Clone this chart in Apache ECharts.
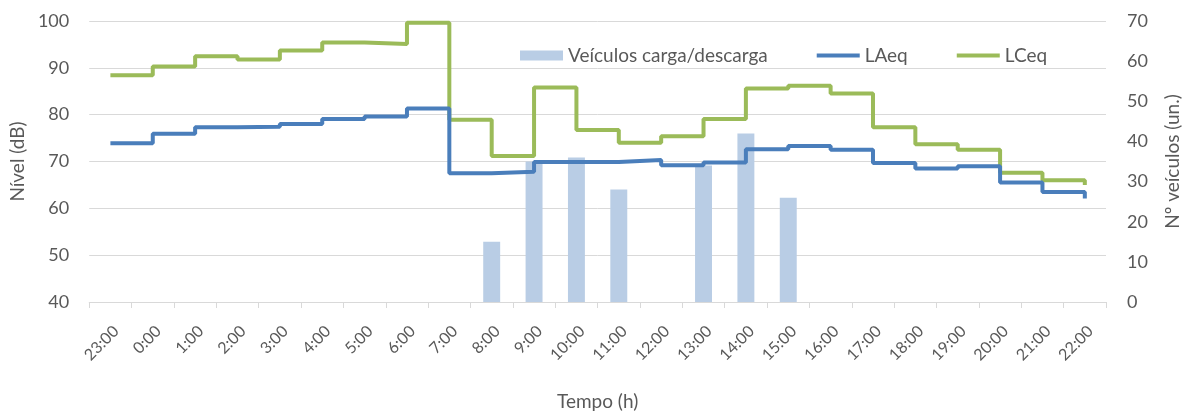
<!DOCTYPE html>
<html>
<head>
<meta charset="utf-8">
<script src="https://cdn.jsdelivr.net/npm/echarts@6/dist/echarts.min.js"></script>
<style>
  html, body { margin: 0; padding: 0; background: #fff; }
  #chart { width: 1190px; height: 417px; }
</style>
</head>
<body>
<div id="chart"></div>
<script>
// Hourly categories, 23:00 through 22:00
const hours = ['23:00','0:00','1:00','2:00','3:00','4:00','5:00','6:00','7:00','8:00','9:00','10:00',
  '11:00','12:00','13:00','14:00','15:00','16:00','17:00','18:00','19:00','20:00','21:00','22:00'];

// Loading/unloading vehicles per hour (right axis)
const vehicles = [null,null,null,null,null,null,null,null,null,15,35,36,28,null,34,42,26,null,null,null,null,null,null,null];

// Equivalent sound levels, dB (left axis)
const laeq = [73.9,75.9,77.3,77.4,78.0,79.1,79.6,81.3,67.5,67.8,69.9,69.9,70.3,69.2,69.8,72.6,73.3,72.5,69.7,68.5,69.0,65.5,63.5,62.1];
const lceq = [88.4,90.3,92.5,91.8,93.7,95.4,95.1,99.6,78.9,71.2,85.8,76.7,74.0,75.4,79.1,85.6,86.2,84.5,77.3,73.7,72.5,67.6,66.0,65.0];

const levelTicks = { min: 40, max: 100, interval: 10 };
const countTicks = { min: 0, max: 70, interval: 10 };

const FONT = 'Lato';
const TXT = '#595959';
const GRID = '#d9d9d9';
const BLUE = '#4a7ebb';
const GREEN = '#9bbb59';
const BAR = '#b9cde5';

// thin horizontal stroke used as legend key for the line series
const lineKey = 'path://M0,0H43V4H0Z';

const chart = echarts.init(document.getElementById('chart'), null, { renderer: 'canvas' });
chart.setOption({
  animation: false,
  textStyle: { fontFamily: FONT, color: TXT },
  grid: { left: 89, right: 80, top: 21, bottom: 115, containLabel: false },
  legend: {
    left: 515, top: 41,
    itemWidth: 43, itemHeight: 10, itemGap: 49, itemTextGap: 5,
    textStyle: { fontFamily: FONT, fontSize: 19, color: TXT },
    data: [
      { name: 'Veículos carga/descarga', icon: 'rect' },
      { name: 'LAeq', icon: lineKey },
      { name: 'LCeq', icon: lineKey }
    ]
  },
  xAxis: {
    type: 'category',
    data: hours,
    boundaryGap: true,
    name: 'Tempo (h)',
    nameLocation: 'middle',
    nameGap: 90,
    nameTextStyle: { fontFamily: FONT, fontSize: 19, color: TXT },
    axisLine: { lineStyle: { color: GRID, width: 1 } },
    axisTick: { show: true, alignWithLabel: false, length: 6, lineStyle: { color: GRID } },
    axisLabel: { rotate: 45, align: 'right', verticalAlign: 'top', fontSize: 16, color: TXT, margin: 21, interval: 0 },
    splitLine: { show: false }
  },
  yAxis: [
    {
      type: 'value',
      min: levelTicks.min, max: levelTicks.max, interval: levelTicks.interval,
      name: 'Nível (dB)',
      nameLocation: 'middle',
      nameGap: 58,
      nameRotate: 90,
      nameTextStyle: { fontFamily: FONT, fontSize: 19, color: TXT },
      axisLine: { show: false },
      axisTick: { show: false },
      axisLabel: { fontSize: 18, color: TXT, margin: 20 },
      splitLine: { lineStyle: { color: GRID, width: 1 } }
    },
    {
      type: 'value',
      position: 'right',
      min: countTicks.min, max: countTicks.max, interval: countTicks.interval,
      name: 'Nº veículos (un.)',
      nameLocation: 'middle',
      nameGap: 57,
      nameRotate: 90,
      nameTextStyle: { fontFamily: FONT, fontSize: 19, color: TXT },
      axisLine: { show: false },
      axisTick: { show: false },
      axisLabel: { fontSize: 18, color: TXT, margin: 21 },
      splitLine: { show: false }
    }
  ],
  series: [
    {
      name: 'Veículos carga/descarga',
      type: 'bar',
      yAxisIndex: 1,
      data: vehicles,
      barWidth: '40%',
      itemStyle: { color: BAR },
      z: 1
    },
    {
      name: 'LAeq',
      type: 'line',
      yAxisIndex: 0,
      data: laeq,
      step: 'end',
      symbol: 'none',
      lineStyle: { color: BLUE, width: 4 },
      itemStyle: { color: BLUE },
      z: 3
    },
    {
      name: 'LCeq',
      type: 'line',
      yAxisIndex: 0,
      data: lceq,
      step: 'end',
      symbol: 'none',
      lineStyle: { color: GREEN, width: 4 },
      itemStyle: { color: GREEN },
      z: 2
    }
  ]
});
</script>
</body>
</html>
